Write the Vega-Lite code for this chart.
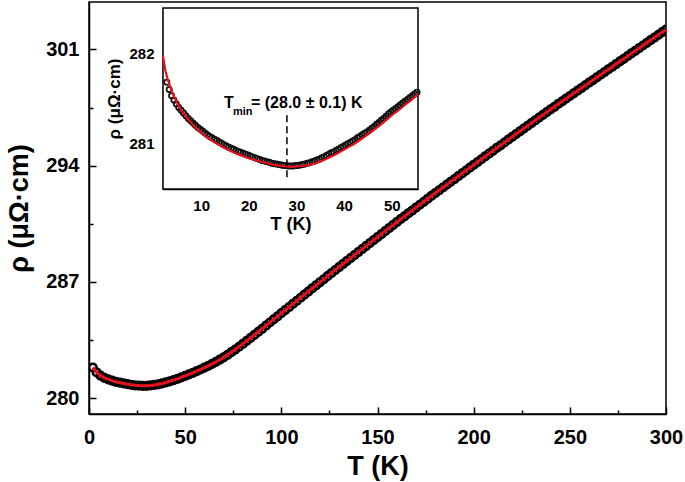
{
  "$schema": "https://vega.github.io/schema/vega-lite/v6.json",
  "width": 577,
  "height": 412,
  "autosize": {"type": "none"},
  "padding": {"left": 89, "top": 2, "right": 19, "bottom": 68},
  "background": "white",
  "config": {
    "view": {"stroke": "#000", "strokeWidth": 1.5},
    "axis": {
      "grid": false, "domainColor": "#000", "domainWidth": 1.5, "tickColor": "#000", "tickWidth": 1.5,
      "labelColor": "#000", "labelFont": "Liberation Sans", "labelFontWeight": "bold",
      "titleFont": "Liberation Sans", "titleFontWeight": "bold", "titleColor": "#000",
      "labelFlush": false, "labelOverlap": false
    }
  },
  "datasets": {
    "main": [
      {"T":2,"rho":281.85},{"T":4,"rho":281.55},{"T":6,"rho":281.36},{"T":8,"rho":281.23},{"T":10,"rho":281.14},
      {"T":12,"rho":281.06},{"T":14,"rho":280.99},{"T":16,"rho":280.94},{"T":18,"rho":280.89},{"T":20,"rho":280.85},
      {"T":22,"rho":280.81},{"T":24,"rho":280.78},{"T":26,"rho":280.76},{"T":28,"rho":280.75},{"T":30,"rho":280.75},
      {"T":32,"rho":280.77},{"T":34,"rho":280.80},{"T":36,"rho":280.84},{"T":38,"rho":280.89},{"T":40,"rho":280.95},
      {"T":42,"rho":281.02},{"T":44,"rho":281.09},{"T":46,"rho":281.17},{"T":48,"rho":281.26},{"T":50,"rho":281.35},
      {"T":52,"rho":281.44},{"T":54,"rho":281.53},{"T":56,"rho":281.63},{"T":58,"rho":281.73},{"T":60,"rho":281.84},
      {"T":62,"rho":281.95},{"T":64,"rho":282.07},{"T":66,"rho":282.19},{"T":68,"rho":282.32},{"T":70,"rho":282.46},
      {"T":72,"rho":282.61},{"T":74,"rho":282.77},{"T":76,"rho":282.93},{"T":78,"rho":283.10},{"T":80,"rho":283.27},
      {"T":82,"rho":283.45},{"T":84,"rho":283.63},{"T":86,"rho":283.81},{"T":88,"rho":283.99},{"T":90,"rho":284.18},
      {"T":92,"rho":284.37},{"T":94,"rho":284.56},{"T":96,"rho":284.75},{"T":98,"rho":284.93},{"T":100,"rho":285.12},
      {"T":102,"rho":285.31},{"T":104,"rho":285.49},{"T":106,"rho":285.68},{"T":108,"rho":285.86},{"T":110,"rho":286.05},
      {"T":112,"rho":286.24},{"T":114,"rho":286.42},{"T":116,"rho":286.61},{"T":118,"rho":286.79},{"T":120,"rho":286.98},
      {"T":122,"rho":287.16},{"T":124,"rho":287.35},{"T":126,"rho":287.53},{"T":128,"rho":287.72},{"T":130,"rho":287.90},
      {"T":132,"rho":288.08},{"T":134,"rho":288.26},{"T":136,"rho":288.44},{"T":138,"rho":288.62},{"T":140,"rho":288.80},
      {"T":142,"rho":288.98},{"T":144,"rho":289.16},{"T":146,"rho":289.34},{"T":148,"rho":289.52},{"T":150,"rho":289.70},
      {"T":152,"rho":289.88},{"T":154,"rho":290.06},{"T":156,"rho":290.24},{"T":158,"rho":290.42},{"T":160,"rho":290.60},
      {"T":162,"rho":290.78},{"T":164,"rho":290.95},{"T":166,"rho":291.13},{"T":168,"rho":291.30},{"T":170,"rho":291.48},
      {"T":172,"rho":291.65},{"T":174,"rho":291.83},{"T":176,"rho":292.00},{"T":178,"rho":292.18},{"T":180,"rho":292.35},
      {"T":182,"rho":292.52},{"T":184,"rho":292.69},{"T":186,"rho":292.86},{"T":188,"rho":293.03},{"T":190,"rho":293.20},
      {"T":192,"rho":293.37},{"T":194,"rho":293.54},{"T":196,"rho":293.71},{"T":198,"rho":293.88},{"T":200,"rho":294.05},
      {"T":202,"rho":294.22},{"T":204,"rho":294.39},{"T":206,"rho":294.56},{"T":208,"rho":294.73},{"T":210,"rho":294.90},
      {"T":212,"rho":295.07},{"T":214,"rho":295.23},{"T":216,"rho":295.40},{"T":218,"rho":295.57},{"T":220,"rho":295.74},
      {"T":222,"rho":295.91},{"T":224,"rho":296.07},{"T":226,"rho":296.24},{"T":228,"rho":296.40},{"T":230,"rho":296.57},
      {"T":232,"rho":296.73},{"T":234,"rho":296.90},{"T":236,"rho":297.06},{"T":238,"rho":297.23},{"T":240,"rho":297.39},
      {"T":242,"rho":297.55},{"T":244,"rho":297.72},{"T":246,"rho":297.88},{"T":248,"rho":298.04},{"T":250,"rho":298.20},
      {"T":252,"rho":298.36},{"T":254,"rho":298.52},{"T":256,"rho":298.68},{"T":258,"rho":298.84},{"T":260,"rho":299.00},
      {"T":262,"rho":299.16},{"T":264,"rho":299.32},{"T":266,"rho":299.48},{"T":268,"rho":299.64},{"T":270,"rho":299.80},
      {"T":272,"rho":299.96},{"T":274,"rho":300.12},{"T":276,"rho":300.28},{"T":278,"rho":300.44},{"T":280,"rho":300.60},
      {"T":282,"rho":300.76},{"T":284,"rho":300.92},{"T":286,"rho":301.08},{"T":288,"rho":301.24},{"T":290,"rho":301.40},
      {"T":292,"rho":301.56},{"T":294,"rho":301.72},{"T":296,"rho":301.88},{"T":298,"rho":302.04},{"T":300,"rho":302.20}
    ],
    "insetPts": [
      {"T":2.8,"rho":281.68},{"T":3.3,"rho":281.60},{"T":3.8,"rho":281.53},{"T":4.3,"rho":281.48},{"T":4.8,"rho":281.44},
      {"T":5.3,"rho":281.40},{"T":5.8,"rho":281.37},{"T":6.3,"rho":281.34},{"T":6.8,"rho":281.31},{"T":7.3,"rho":281.28},
      {"T":7.8,"rho":281.255},{"T":8.3,"rho":281.23},{"T":8.8,"rho":281.205},{"T":9.3,"rho":281.18},{"T":9.8,"rho":281.16},
      {"T":10.3,"rho":281.14},{"T":10.8,"rho":281.12},{"T":11.3,"rho":281.10},{"T":11.8,"rho":281.08},{"T":12.3,"rho":281.065},
      {"T":12.8,"rho":281.05},{"T":13.3,"rho":281.035},{"T":13.8,"rho":281.02},{"T":14.3,"rho":281.005},{"T":14.8,"rho":280.99},
      {"T":15.3,"rho":280.975},{"T":15.8,"rho":280.96},{"T":16.3,"rho":280.95},{"T":16.8,"rho":280.94},{"T":17.3,"rho":280.925},
      {"T":17.8,"rho":280.915},{"T":18.3,"rho":280.905},{"T":18.8,"rho":280.895},{"T":19.3,"rho":280.885},{"T":19.8,"rho":280.875},
      {"T":20.3,"rho":280.865},{"T":20.8,"rho":280.855},{"T":21.3,"rho":280.845},{"T":21.8,"rho":280.835},{"T":22.3,"rho":280.825},
      {"T":22.8,"rho":280.815},{"T":23.3,"rho":280.81},{"T":23.8,"rho":280.80},{"T":24.3,"rho":280.795},{"T":24.8,"rho":280.785},
      {"T":25.3,"rho":280.78},{"T":25.8,"rho":280.775},{"T":26.3,"rho":280.77},{"T":26.8,"rho":280.765},{"T":27.3,"rho":280.76},
      {"T":27.8,"rho":280.76},{"T":28.3,"rho":280.755},{"T":28.8,"rho":280.755},{"T":29.3,"rho":280.755},{"T":29.8,"rho":280.76},
      {"T":30.3,"rho":280.76},{"T":30.8,"rho":280.765},{"T":31.3,"rho":280.77},{"T":31.8,"rho":280.775},{"T":32.3,"rho":280.785},
      {"T":32.8,"rho":280.79},{"T":33.3,"rho":280.80},{"T":33.8,"rho":280.81},{"T":34.3,"rho":280.82},{"T":34.8,"rho":280.83},
      {"T":35.3,"rho":280.845},{"T":35.8,"rho":280.855},{"T":36.3,"rho":280.87},{"T":36.8,"rho":280.885},{"T":37.3,"rho":280.90},
      {"T":37.8,"rho":280.91},{"T":38.3,"rho":280.925},{"T":38.8,"rho":280.94},{"T":39.3,"rho":280.955},{"T":39.8,"rho":280.97},
      {"T":40.3,"rho":280.985},{"T":40.8,"rho":281.00},{"T":41.3,"rho":281.015},{"T":41.8,"rho":281.03},{"T":42.3,"rho":281.045},
      {"T":42.8,"rho":281.065},{"T":43.3,"rho":281.08},{"T":43.8,"rho":281.10},{"T":44.3,"rho":281.115},{"T":44.8,"rho":281.13},
      {"T":45.3,"rho":281.15},{"T":45.8,"rho":281.17},{"T":46.3,"rho":281.19},{"T":46.8,"rho":281.215},{"T":47.3,"rho":281.235},
      {"T":47.8,"rho":281.26},{"T":48.3,"rho":281.28},{"T":48.8,"rho":281.305},{"T":49.3,"rho":281.33},{"T":49.8,"rho":281.35},
      {"T":50.3,"rho":281.37},{"T":50.8,"rho":281.39},{"T":51.3,"rho":281.41},{"T":51.8,"rho":281.43},{"T":52.3,"rho":281.45},
      {"T":52.8,"rho":281.47},{"T":53.3,"rho":281.49},{"T":53.8,"rho":281.51},{"T":54.3,"rho":281.53},{"T":54.8,"rho":281.55},
      {"T":55.3,"rho":281.57}
    ],
    "insetFit": [
      {"T":2.0,"fit":281.97},{"T":2.5,"fit":281.81},{"T":3.0,"fit":281.71},{"T":3.5,"fit":281.63},{"T":4.0,"fit":281.56},
      {"T":4.5,"fit":281.50},{"T":5.0,"fit":281.45},{"T":5.5,"fit":281.40},{"T":6,"fit":281.36},{"T":7,"fit":281.29},
      {"T":8,"fit":281.225},{"T":9,"fit":281.17},{"T":10,"fit":281.125},{"T":11,"fit":281.085},{"T":12,"fit":281.045},
      {"T":13,"fit":281.01},{"T":14,"fit":280.98},{"T":15,"fit":280.95},{"T":16,"fit":280.925},{"T":17,"fit":280.90},
      {"T":18,"fit":280.88},{"T":19,"fit":280.86},{"T":20,"fit":280.84},{"T":21,"fit":280.825},{"T":22,"fit":280.81},
      {"T":23,"fit":280.795},{"T":24,"fit":280.785},{"T":25,"fit":280.77},{"T":26,"fit":280.76},{"T":27,"fit":280.755},
      {"T":28,"fit":280.75},{"T":29,"fit":280.745},{"T":30,"fit":280.75},{"T":31,"fit":280.755},{"T":32,"fit":280.76},
      {"T":33,"fit":280.77},{"T":34,"fit":280.785},{"T":35,"fit":280.805},{"T":36,"fit":280.825},{"T":37,"fit":280.85},
      {"T":38,"fit":280.875},{"T":39,"fit":280.905},{"T":40,"fit":280.935},{"T":41,"fit":280.965},{"T":42,"fit":280.995},
      {"T":43,"fit":281.03},{"T":44,"fit":281.065},{"T":45,"fit":281.105},{"T":46,"fit":281.145},{"T":47,"fit":281.185},
      {"T":48,"fit":281.225},{"T":49,"fit":281.27},{"T":50,"fit":281.315},{"T":51,"fit":281.355},{"T":52,"fit":281.395},
      {"T":53,"fit":281.44},{"T":54,"fit":281.48},{"T":55,"fit":281.525},{"T":55.5,"fit":281.55}
    ],
    "tmin": [{"T":28.0,"lo":280.63,"hi":281.35}],
    "one": [{}]
  },
  "layer": [
    {
      "layer": [
        {
          "data": {"name": "main"},
          "mark": {"type": "point", "filled": false, "stroke": "#000", "strokeWidth": 2.6, "size": 58, "opacity": 1, "clip": true},
          "encoding": {
            "x": {"field": "T", "type": "quantitative", "scale": {"domain": [0, 300], "nice": false, "zero": false},
                  "axis": {"orient": "bottom", "values": [0,50,100,150,200,250,300], "tickSize": -7, "labelPadding": 20, "labelFontSize": 20, "title": "T (K)", "titleFontSize": 27, "titlePadding": 6}},
            "y": {"field": "rho", "type": "quantitative", "scale": {"domain": [279.05, 303.86], "nice": false, "zero": false},
                  "axis": {"orient": "left", "values": [280,287,294,301], "tickSize": -7, "labelPadding": 17, "labelFontSize": 20, "title": "ρ (μΩ·cm)", "titleFontSize": 27, "titlePadding": 12}}
          }
        },
        {
          "data": {"name": "main"},
          "mark": {"type": "line", "color": "#e8101a", "strokeWidth": 3, "clip": true},
          "encoding": {
            "x": {"field": "T", "type": "quantitative", "scale": {"domain": [0, 300], "nice": false, "zero": false},
                  "axis": {"orient": "bottom", "values": [25,75,125,175,225,275], "tickSize": -4, "labels": false, "domain": false, "title": null}},
            "y": {"field": "rho", "type": "quantitative", "scale": {"domain": [279.05, 303.86], "nice": false, "zero": false},
                  "axis": {"orient": "left", "values": [283.5,290.5,297.5], "tickSize": -4, "labels": false, "domain": false, "title": null}}
          }
        }
      ],
      "resolve": {"axis": {"x": "independent", "y": "independent"}}
    },
    {
      "layer": [
        {
          "data": {"name": "one"},
          "mark": {"type": "rect", "fill": "white", "stroke": "#000", "strokeWidth": 1.5},
          "encoding": {
            "x": {"datum": 2, "type": "quantitative", "scale": {"domain": [2, 55.5], "range": [74, 329], "nice": false, "zero": false}, "axis": null},
            "x2": {"datum": 55.5},
            "y": {"datum": 280.5, "type": "quantitative", "scale": {"domain": [280.5, 282.5], "range": [187, 6], "nice": false, "zero": false}, "axis": null},
            "y2": {"datum": 282.5}
          }
        },
        {
          "data": {"name": "insetPts"},
          "mark": {"type": "point", "filled": false, "stroke": "#111", "strokeWidth": 1.7, "size": 28, "opacity": 1},
          "encoding": {
            "x": {"field": "T", "type": "quantitative", "scale": {"domain": [2, 55.5], "range": [74, 329], "nice": false, "zero": false},
                  "axis": {"orient": "bottom", "offset": -225, "values": [10,20,30,40,50], "tickSize": -6, "labelPadding": 15, "labelFontSize": 15, "title": "T (K)", "titleFontSize": 18, "titlePadding": 2}},
            "y": {"field": "rho", "type": "quantitative", "scale": {"domain": [280.5, 282.5], "range": [187, 6], "nice": false, "zero": false},
                  "axis": {"orient": "left", "offset": -74, "values": [281, 282], "tickSize": -6, "labelPadding": 15, "labelFontSize": 15, "title": "ρ (μΩ·cm)", "titleFontSize": 17, "titlePadding": 5}}
          }
        },
        {
          "data": {"name": "insetFit"},
          "mark": {"type": "line", "color": "#e8101a", "strokeWidth": 2.2},
          "encoding": {
            "x": {"field": "T", "type": "quantitative", "scale": {"domain": [2, 55.5], "range": [74, 329], "nice": false, "zero": false},
                  "axis": {"orient": "bottom", "offset": -225, "values": [5,15,25,35,45,55], "tickSize": -3, "labels": false, "domain": false, "title": null}},
            "y": {"field": "fit", "type": "quantitative", "scale": {"domain": [280.5, 282.5], "range": [187, 6], "nice": false, "zero": false},
                  "axis": {"orient": "left", "offset": -74, "values": [281.5], "tickSize": -3, "labels": false, "domain": false, "title": null}}
          }
        },
        {
          "data": {"name": "tmin"},
          "mark": {"type": "rule", "color": "#000", "strokeWidth": 1.5, "strokeDash": [7, 4]},
          "encoding": {
            "x": {"field": "T", "type": "quantitative", "scale": {"domain": [2, 55.5], "range": [74, 329], "nice": false, "zero": false}, "axis": null},
            "y": {"field": "lo", "type": "quantitative", "scale": {"domain": [280.5, 282.5], "range": [187, 6], "nice": false, "zero": false}, "axis": null},
            "y2": {"field": "hi"}
          }
        },
        {
          "data": {"name": "one"},
          "mark": {"type": "text", "text": "T", "font": "Liberation Sans", "fontWeight": "bold", "fontSize": 16, "align": "left", "baseline": "alphabetic", "color": "#000"},
          "encoding": {
            "x": {"datum": 14.8, "type": "quantitative", "scale": {"domain": [2, 55.5], "range": [74, 329], "nice": false, "zero": false}, "axis": null},
            "y": {"datum": 281.395, "type": "quantitative", "scale": {"domain": [280.5, 282.5], "range": [187, 6], "nice": false, "zero": false}, "axis": null}
          }
        },
        {
          "data": {"name": "one"},
          "mark": {"type": "text", "text": "min", "font": "Liberation Sans", "fontWeight": "bold", "fontSize": 11, "align": "left", "baseline": "alphabetic", "color": "#000"},
          "encoding": {
            "x": {"datum": 16.69, "type": "quantitative", "scale": {"domain": [2, 55.5], "range": [74, 329], "nice": false, "zero": false}, "axis": null},
            "y": {"datum": 281.318, "type": "quantitative", "scale": {"domain": [280.5, 282.5], "range": [187, 6], "nice": false, "zero": false}, "axis": null}
          }
        },
        {
          "data": {"name": "one"},
          "mark": {"type": "text", "text": "= (28.0 ± 0.1) K", "font": "Liberation Sans", "fontWeight": "bold", "fontSize": 16, "align": "left", "baseline": "alphabetic", "color": "#000"},
          "encoding": {
            "x": {"datum": 20.46, "type": "quantitative", "scale": {"domain": [2, 55.5], "range": [74, 329], "nice": false, "zero": false}, "axis": null},
            "y": {"datum": 281.395, "type": "quantitative", "scale": {"domain": [280.5, 282.5], "range": [187, 6], "nice": false, "zero": false}, "axis": null}
          }
        }
      ],
      "resolve": {"axis": {"x": "independent", "y": "independent"}}
    }
  ],
  "resolve": {"scale": {"x": "independent", "y": "independent"}, "axis": {"x": "independent", "y": "independent"}}
}
